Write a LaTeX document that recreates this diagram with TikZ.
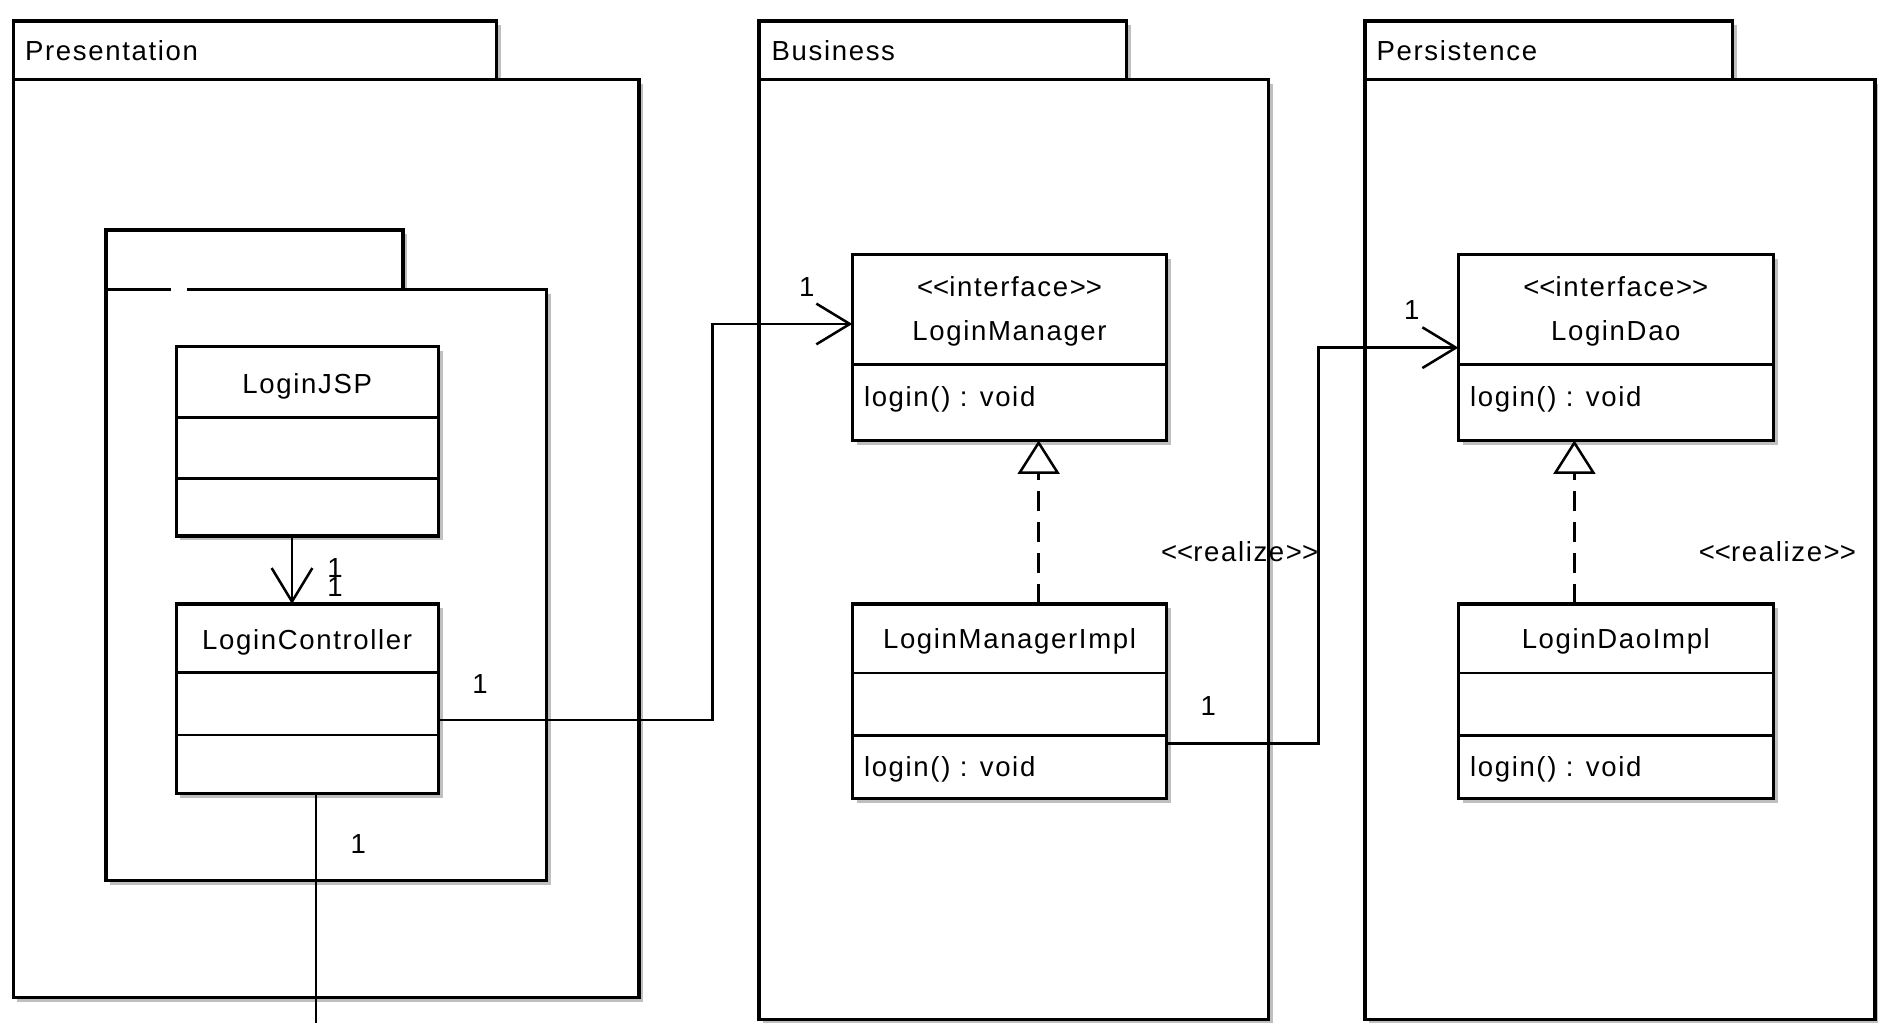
\documentclass[tikz,border=0pt]{standalone}
\usepackage{fontspec}
\setmainfont{Liberation Sans}[LetterSpace=6]
\usetikzlibrary{arrows.meta,fit,shadows}
\newcommand{\lt}{<\kern0pt}
\newcommand{\gt}{>\kern0pt}
\tikzset{
  box/.style={draw, line width=1.3pt, fill=white, inner sep=0pt, outer sep=0pt,
    general shadow={fill=black!25, shadow xshift=1.8pt, shadow yshift=-1.8pt}},
  divider/.style={line width=1.1pt},
  assoc/.style={line width=1.05pt, -{Straight Barb[length=14pt,width=17pt]}},
  realizeline/.style={line width=1.05pt, dash pattern=on 8.3pt off 4.6pt,
    -{Triangle[open,fill=white,length=14pt,width=17.5pt]}},
  plainline/.style={line width=1.05pt},
  txt/.style={inner sep=0pt, outer sep=0pt, anchor=base},
  ltxt/.style={inner sep=0pt, outer sep=0pt, anchor=base west},
}
\begin{document}
\begin{tikzpicture}[x=0.5pt,y=-0.5pt,font=\fontsize{11.5pt}{13pt}\selectfont]
\useasboundingbox (0,0) rectangle (1568,854);

% ---------- packages ----------
\node[box, fit={(11,17.5) (414.5,66.2)}] (prestab) {};
\node[box, fit={(11,66.2) (533.5,833)}] (presbody) {};
\node[box, fit={(633.7,17.5) (940.7,66.2)}] (bustab) {};
\node[box, fit={(633.7,66.2) (1059.3,851)}] (busbody) {};
\node[box, fit={(1139.7,17.5) (1446.4,66.2)}] (perstab) {};
\node[box, fit={(1139.7,66.2) (1565.5,851)}] (persbody) {};

\node[ltxt] (tpres) at (21,50.7) {Presentation};
\node[ltxt] (tbus) at (644.3,50.7) {Business};
\node[ltxt] (tpers) at (1149.4,50.7) {Persistence};

% inner (unnamed) package
\node[box, fit={(88.5,192) (336.5,241.5)}] (intab) {};
\node[box, fit={(88.5,241.5) (456.5,735)}] (inbody) {};
\draw[white, line width=1.8pt] (143,241.5) -- (156,241.5);

% ---------- classes ----------
\node[box, fit={(147,289.5) (366,447.5)}] (jsp) {};
\draw[divider] (jsp.west |- 0,348.4) -- (jsp.east |- 0,348.4);
\draw[divider] (jsp.west |- 0,399.4) -- (jsp.east |- 0,399.4);
\node[txt] (tjsp) at (256.5,328.4) {LoginJSP};

\node[box, fit={(147,504.3) (366,662.4)}] (lc) {};
\draw[divider] (lc.west |- 0,561.6) -- (lc.east |- 0,561.6);
\draw[divider] (lc.west |- 0,613.7) -- (lc.east |- 0,613.7);
\node[txt] (tlc) at (256.5,542) {LoginController};

\node[box, fit={(711.6,212.5) (974.1,367.7)}] (lm) {};
\draw[divider] (lm.west |- 0,304.5) -- (lm.east |- 0,304.5);
\node[txt] (tlmst) at (842.9,247.7) {\lt\lt interface\gt\gt};
\node[txt] (tlm) at (842.9,284.4) {LoginManager};
\node[ltxt] (tlmop) at (721.4,339.5) {login() : void};

\node[box, fit={(711.6,504.3) (974.1,667)}] (lmi) {};
\draw[divider] (lmi.west |- 0,561.8) -- (lmi.east |- 0,561.8);
\draw[divider] (lmi.west |- 0,614.2) -- (lmi.east |- 0,614.2);
\node[txt] (tlmi) at (842.9,541.3) {LoginManagerImpl};
\node[ltxt] (tlmiop) at (721.4,648.5) {login() : void};

\node[box, fit={(1217.6,212.5) (1480.6,367.7)}] (ld) {};
\draw[divider] (ld.west |- 0,304.5) -- (ld.east |- 0,304.5);
\node[txt] (tldst) at (1349.1,247.7) {\lt\lt interface\gt\gt};
\node[txt] (tld) at (1349.1,284.4) {LoginDao};
\node[ltxt] (tldop) at (1227.4,339.5) {login() : void};

\node[box, fit={(1217.6,504.3) (1480.6,667)}] (ldi) {};
\draw[divider] (ldi.west |- 0,561.8) -- (ldi.east |- 0,561.8);
\draw[divider] (ldi.west |- 0,614.2) -- (ldi.east |- 0,614.2);
\node[txt] (tldi) at (1349.1,541.3) {LoginDaoImpl};
\node[ltxt] (tldiop) at (1227.4,648.5) {login() : void};

% ---------- connectors ----------
\coordinate (k1) at (243.8,470);
\draw[assoc] (k1 |- jsp.south) -- (k1 |- lc.north);

\coordinate (c1) at (595,601);
\coordinate (c2) at (595,270.5);
\draw[assoc] (c1 -| lc.east) -- (c1) -- (c2) -- (c2 -| lm.west);

\coordinate (c3) at (1100.7,620.6);
\coordinate (c4) at (1100.7,290.3);
\draw[assoc] (c3 -| lmi.east) -- (c3) -- (c4) -- (c4 -| ld.west);

\coordinate (k2) at (263.8,860);
\draw[plainline] (k2 |- lc.south) -- (k2);

\coordinate (r1) at (867.2,450);
\draw[realizeline] (r1 |- lmi.north) -- (r1 |- lm.south);
\coordinate (r2) at (1314.5,450);
\draw[realizeline] (r2 |- ldi.north) -- (r2 |- ld.south);

% ---------- labels ----------
\node[txt] (rz1) at (1035,469) {\lt\lt realize\gt\gt};
\node[txt] (rz2) at (1484,469) {\lt\lt realize\gt\gt};

\node[txt] (m1) at (279.7,482) {1};
\node[txt] (m2) at (279.7,498) {1};
\node[txt] (m3) at (400.8,579) {1};
\node[txt] (m4) at (299.2,712.5) {1};
\node[txt] (m5) at (673.5,247.7) {1};
\node[txt] (m6) at (1008.9,597.8) {1};
\node[txt] (m7) at (1178.7,266.6) {1};
\end{tikzpicture}
\end{document}
